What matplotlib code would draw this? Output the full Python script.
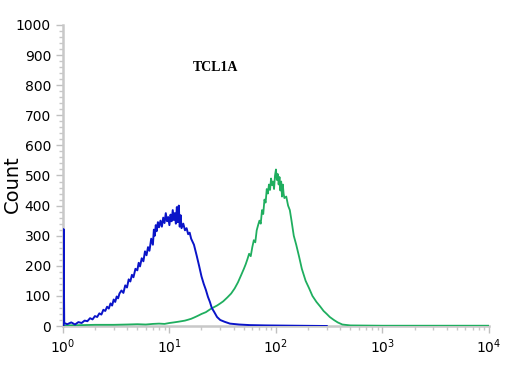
import matplotlib.pyplot as plt
from matplotlib.ticker import MultipleLocator, LogLocator, NullFormatter

# histogram values (fluorescence, count)
blue_x = [1.015, 1.015, 1.03, 1.1, 1.2, 1.3, 1.4, 1.5, 1.6, 1.7, 1.8, 1.9, 2.0, 2.1,
          2.2, 2.3, 2.4, 2.5, 2.6, 2.7, 2.8, 2.9, 3.0, 3.1, 3.2, 3.3, 3.4, 3.55, 3.7,
          3.85, 4.0, 4.15, 4.3, 4.45, 4.6, 4.8, 5.0, 5.15, 5.3, 5.5, 5.7, 5.9, 6.1,
          6.3, 6.5, 6.75, 7.0, 7.15, 7.3, 7.45, 7.6, 7.8, 8.0, 8.25, 8.5, 8.75, 9.0,
          9.25, 9.5, 9.75, 10, 10.25, 10.5, 10.75, 11, 11.25, 11.5, 11.75, 12, 12.25,
          12.5, 12.75, 13, 13.5, 14, 14.5, 15, 15.5, 16, 17, 18, 19, 20, 21, 22, 23,
          24, 25, 26.5, 28, 30, 33, 37, 45, 57, 80, 150, 300]
blue_y = [0, 322, 10, 6, 12, 5, 13, 10, 18, 16, 26, 22, 33, 30, 42, 38, 54, 50, 64,
          58, 75, 68, 88, 80, 98, 92, 108, 118, 110, 135, 128, 155, 148, 170, 162, 190,
          185, 210, 198, 225, 215, 248, 235, 262, 250, 290, 270, 320, 300, 335, 315,
          345, 328, 350, 330, 360, 342, 375, 348, 362, 335, 370, 348, 385, 352, 375,
          340, 395, 345, 400, 330, 368, 325, 340, 318, 325, 305, 310, 290, 270, 235,
          200, 165, 140, 120, 97, 80, 60, 45, 30, 20, 14, 8, 5, 3, 2, 1, 0]

green_x = [1.0, 1.5, 2, 3, 4, 5, 6, 7, 8, 9, 10, 11, 12, 13, 14, 15, 16, 17, 18, 19,
           20, 22, 24, 26, 28, 30, 32, 35, 38, 41, 44, 47, 50, 52, 54, 56, 58, 60, 62,
           64, 66, 68, 70, 72, 74, 76, 78, 80, 82, 84, 86, 88, 90, 92, 94, 96, 98, 100,
           102, 104, 106, 108, 110, 112, 114, 116, 118, 120, 125, 130, 135, 140, 147,
           155, 165, 175, 190, 205, 220, 240, 260, 280, 300, 320, 350, 380, 420, 500,
           1000, 10000]
green_y = [2, 3, 4, 4, 5, 6, 5, 7, 8, 7, 10, 12, 14, 16, 18, 21, 24, 28, 32, 36,
           40, 46, 55, 62, 68, 75, 82, 95, 108, 125, 145, 168, 190, 205, 222, 240, 232,
           262, 285, 278, 318, 335, 350, 340, 385, 372, 420, 410, 455, 440, 470, 452,
           490, 468, 480, 455, 500, 520, 485, 505, 470, 495, 450, 480, 430, 470, 440,
           425, 430, 400, 385, 350, 300, 270, 230, 190, 150, 125, 100, 80, 65, 50, 40,
           30, 20, 12, 5, 2, 1, 1]

fig = plt.figure(figsize=(5.11, 3.84), dpi=100)
ax = fig.add_axes([0.123, 0.151, 0.834, 0.784])

ax.plot(green_x, green_y, color='#1fae5f', lw=1.3, zorder=3)
ax.plot(blue_x, blue_y, color='#0a14c8', lw=1.4, zorder=3)

ax.set_xscale('log')
ax.set_xlim(1, 1e4)
ax.set_ylim(0, 1000)

ax.yaxis.set_major_locator(MultipleLocator(100))
ax.yaxis.set_minor_locator(MultipleLocator(20))
ax.xaxis.set_major_locator(LogLocator(base=10))
ax.xaxis.set_minor_locator(LogLocator(base=10, subs=range(2, 10)))
ax.xaxis.set_minor_formatter(NullFormatter())

for s in ['top', 'right']:
    ax.spines[s].set_visible(False)
for s in ['left', 'bottom']:
    ax.spines[s].set_color('#c8c8c8')
    ax.spines[s].set_linewidth(1.8)

ax.tick_params(which='major', length=5, width=1, color='#c0c0c0', labelsize=10)
ax.tick_params(which='minor', length=3, width=1, color='#c8c8c8')

ax.set_ylabel('Count', fontsize=14)
ax.yaxis.set_label_coords(-0.096, 0.47)
ax.text(27, 860, 'TCL1A', fontsize=10, fontweight='bold', family='Liberation Serif',
        ha='center', va='center')

fig.savefig('out.png', dpi=100)
